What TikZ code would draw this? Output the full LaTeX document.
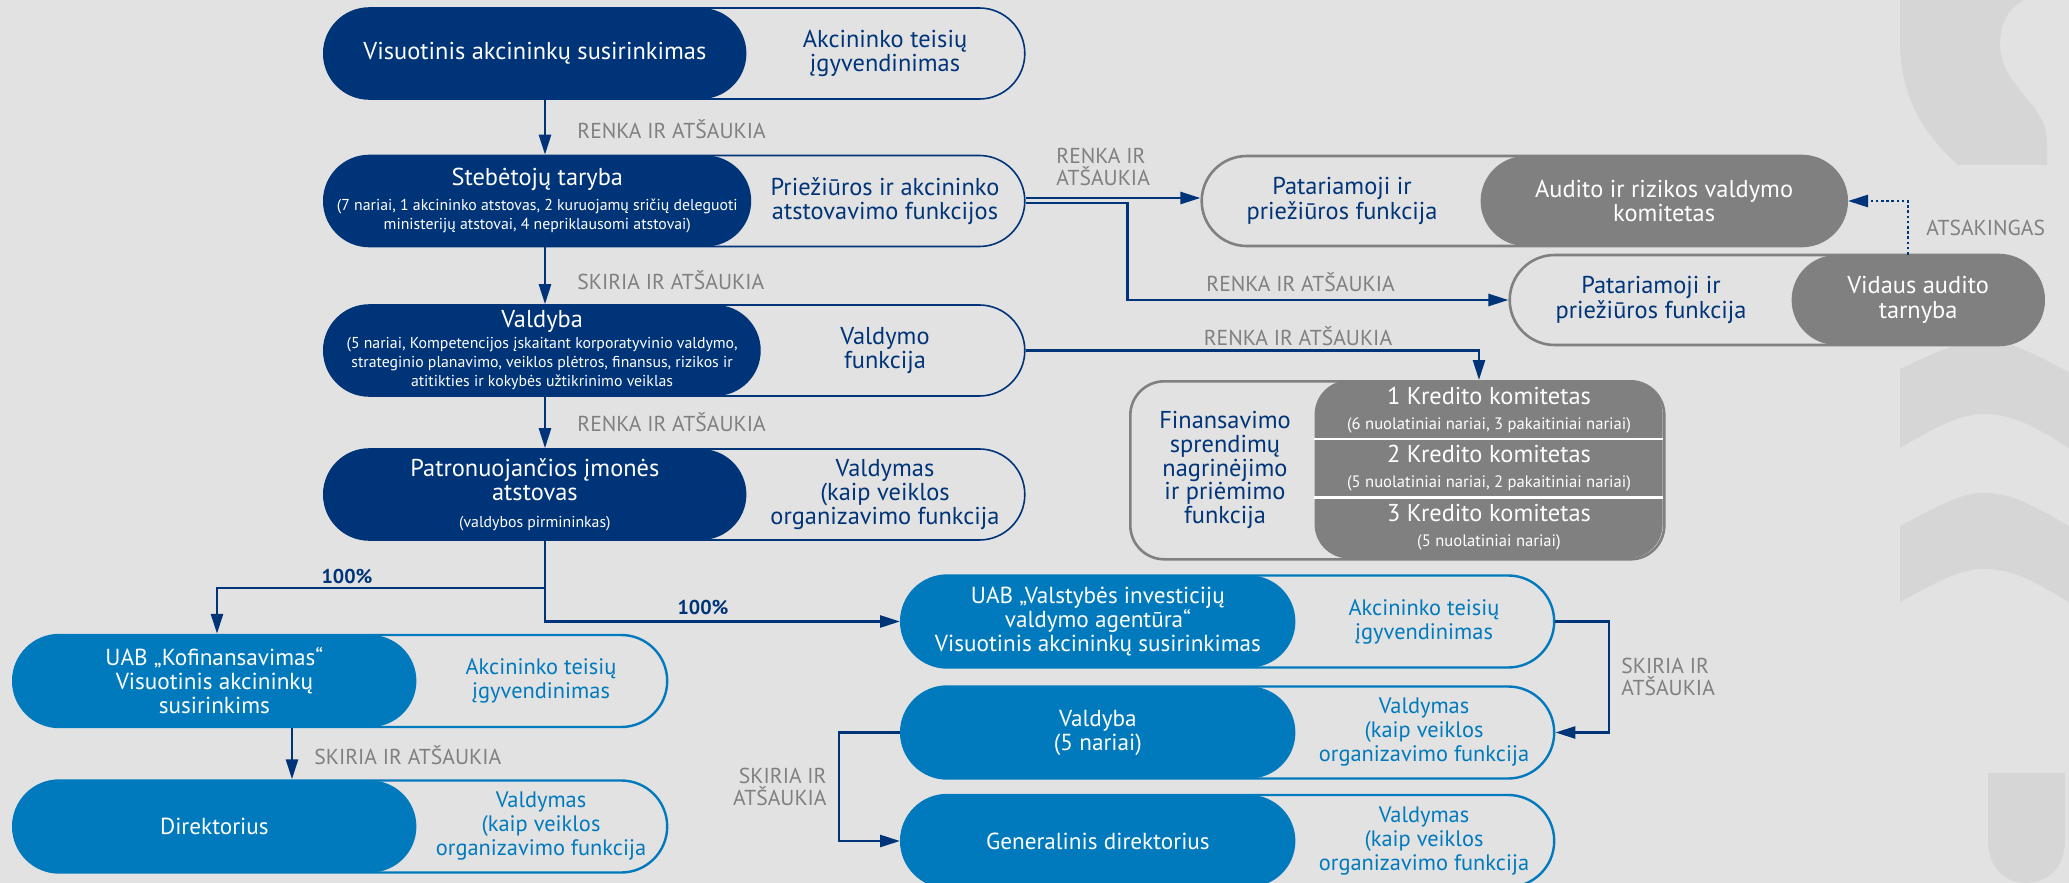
\documentclass[tikz,border=0pt]{standalone}
\usepackage{fontspec}
\setmainfont{PT Sans}
\usetikzlibrary{shapes.misc, arrows.meta, positioning, calc}
\definecolor{invnavy}{RGB}{0, 52, 120}
\definecolor{invblue}{RGB}{0, 122, 189}
\definecolor{boxgrey}{RGB}{128, 128, 128}
\definecolor{bggrey}{RGB}{226, 226, 226}
\definecolor{markgrey}{RGB}{214, 214, 214}
\definecolor{lblgrey}{RGB}{128, 128, 128}
\newcommand{\maintxt}{\fontsize{12.2}{12.2}\selectfont}
\newcommand{\bluetxt}{\fontsize{11.6}{12}\selectfont}
\newcommand{\bluefntxt}{\fontsize{11.2}{12}\selectfont}
\newcommand{\subtxt}{\fontsize{7.9}{9.5}\selectfont}
\newcommand{\kredsub}{\fontsize{8.3}{9.5}\selectfont}
\newcommand{\lbltxt}{\fontsize{10.8}{11}\selectfont}
\newcommand{\pcttxt}{\fontsize{10}{10}\selectfont\bfseries}

\begin{document}
\begin{tikzpicture}[
        x=0.5pt, y=-0.5pt,
        navyout/.style={rounded rectangle, draw=invnavy, line width=0.8pt, minimum height=45.5pt, inner sep=0pt, anchor=west},
        navypill/.style={rounded rectangle, fill=invnavy, text=white, minimum height=45.5pt, inner sep=0pt, align=center, anchor=west, font=\maintxt},
        blueout/.style={rounded rectangle, draw=invblue, line width=1.2pt, minimum height=46pt, inner sep=0pt, anchor=west},
        bluepill/.style={rounded rectangle, fill=invblue, text=white, minimum height=46pt, inner sep=0pt, align=center, anchor=west, font=\bluetxt},
        greyout/.style={rounded rectangle, draw=boxgrey, line width=1.3pt, minimum height=45pt, inner sep=0pt, anchor=east},
        greypill/.style={rounded rectangle, fill=boxgrey, text=white, minimum height=45pt, inner sep=0pt, align=center, anchor=east, font=\maintxt},
        greytxt/.style={align=center, text=white, font=\maintxt, inner sep=0pt},
        navyfn/.style={align=center, text=invnavy, font=\maintxt, inner sep=0pt},
        bluefn/.style={align=center, text=invblue, font=\bluefntxt, inner sep=0pt},
        lbl/.style={align=left, text=lblgrey, font=\lbltxt, inner sep=0pt},
        pct/.style={text=invnavy, font=\pcttxt, inner sep=0pt},
        sepline/.style={draw=white, line width=1.2pt},
        arr/.style={-{Triangle[length=10pt, width=6pt]}, line width=1.3pt, draw=invnavy},
        dotarr/.style={arr, dash pattern=on 1.3pt off 1.3pt}
    ]
        \useasboundingbox (0,0) rectangle (2069,883);
        \fill[bggrey] (0,0) rectangle (2069,883);

        % Watermark
        \fill[markgrey] (1900,0) -- (1900,40) .. controls (1900,100) and (1925,135) .. (1958,165) -- (2047,165) -- (2047,140) .. controls (2047,105) and (2000,85) .. (2000,45) .. controls (2000,20) and (2012,5) .. (2025,0) -- cycle;
        \fill[markgrey] (1900,369) .. controls (1940,350) and (1960,341) .. (1985,341) .. controls (2015,341) and (2040,358) .. (2069,372) -- (2069,448) .. controls (2040,430) and (2015,414) .. (1985,414) .. controls (1960,414) and (1940,425) .. (1900,448) -- cycle;
        \fill[markgrey] (1900,526) .. controls (1940,505) and (1960,493) .. (1985,493) .. controls (2015,493) and (2040,510) .. (2069,526) -- (2069,602) .. controls (2040,585) and (2015,569) .. (1985,569) .. controls (1960,569) and (1940,580) .. (1900,602) -- cycle;
        \fill[markgrey] (1988,773) -- (2065,773) -- (2065,840) .. controls (2065,870) and (2045,883) .. (2026,883) .. controls (2007,883) and (1988,870) .. (1988,840) -- cycle;

        % Shareholders meeting
        \node[navyout, minimum width=350.5pt] (vasBox) at (323,53.5) {};
        \node[navypill, minimum width=211.5pt] (vas) at (323,53.5) {Visuotinis akcininkų susirinkimas};
        \node[navyfn] (vasFn) at (885,53.5) {Akcininko teisių\\įgyvendinimas};

        % Supervisory board
        \node[navyout, minimum width=350.5pt] (stbBox) at (323,201) {};
        \node[navypill, minimum width=211.5pt, font=\subtxt] (stb) at (323,201) {{\maintxt Stebėtojų taryba}\\[3pt](7 nariai, 1 akcininko atstovas, 2 kuruojamų sričių deleguoti\\ministerijų atstovai, 4 nepriklausomi atstovai)};
        \node[navyfn] (stbFn) at (885,201) {Priežiūros ir akcininko\\atstovavimo funkcijos};

        % Board
        \node[navyout, minimum width=350.5pt] (valBox) at (323,350.5) {};
        \node[navypill, minimum width=211.5pt, font=\subtxt] (val) at (323,350.5) {{\maintxt Valdyba}\\[1pt](5 nariai, Kompetencijos įskaitant korporatyvinio valdymo,\\strateginio planavimo, veiklos plėtros, finansus, rizikos ir\\atitikties ir kokybės užtikrinimo veiklas};
        \node[navyfn] (valFn) at (885,350.5) {Valdymo\\funkcija};

        % Parent company representative
        \node[navyout, minimum width=350.5pt] (patBox) at (323,494.5) {};
        \node[navypill, minimum width=211.5pt] (pat) at (323,494.5) {Patronuojančios įmonės\\atstovas\\[1pt]{\subtxt (valdybos pirmininkas)}};
        \node[navyfn] (patFn) at (885,494.5) {Valdymas\\(kaip veiklos\\organizavimo funkcija};

        % Main spine
        \coordinate (spine) at (545,0);
        \draw[arr] (vasBox.south -| spine) -- (stbBox.north -| spine);
        \draw[arr] (stbBox.south -| spine) -- (valBox.north -| spine);
        \draw[arr] (valBox.south -| spine) -- (patBox.north -| spine);
        \node[lbl, anchor=west] (lblVas) at (577,129) {RENKA IR ATŠAUKIA};
        \node[lbl, anchor=west] (lblStb) at (577,280) {SKIRIA IR ATŠAUKIA};
        \node[lbl, anchor=west] (lblVal) at (577,422) {RENKA IR ATŠAUKIA};

        % Audit and risk committee
        \node[greyout, minimum width=322.5pt] (audBox) at (1848,201) {};
        \node[greypill, minimum width=183.5pt] (aud) at (1848,201) {Audito ir rizikos valdymo\\komitetas};
        \node[navyfn] (audFn) at (1342,201) {Patariamoji ir\\priežiūros funkcija};

        % Internal audit
        \node[greyout, minimum width=267pt] (vidBox) at (2045,300) {};
        \node[greypill, minimum width=126.5pt] (vid) at (2045,300) {Vidaus audito\\tarnyba};
        \node[navyfn] (vidFn) at (1651,300) {Patariamoji ir\\priežiūros funkcija};

        \draw[arr] ([yshift=1.5pt]stbBox.east) -- ([yshift=1.5pt]audBox.west);
        \draw[arr] ([yshift=-1pt]stbBox.east) -- ++(102,0) |- (vidBox.west);
        \coordinate (dotX) at (1908,0);
        \draw[dotarr] (vid.north -| dotX) |- (aud.east);
        \node[lbl, anchor=west] (lblAud) at (1056,167) {RENKA IR\\ATŠAUKIA};
        \node[lbl, anchor=west] (lblVid) at (1206,282) {RENKA IR ATŠAUKIA};
        \node[lbl, anchor=west] (lblAts) at (1926,228) {ATSAKINGAS};

        % Credit committees
        \node[draw=boxgrey, line width=1.3pt, rounded corners=17pt, minimum width=267pt, minimum height=89pt, inner sep=0pt, anchor=north west] (finBox) at (1129,380) {};
        \node[fill=boxgrey, rounded corners=17pt, minimum width=174pt, minimum height=89pt, inner sep=0pt, anchor=north east] (kredBox) at (1663,380) {};
        \draw[sepline] ($(kredBox.north west)!0.331!(kredBox.south west)$) -- ($(kredBox.north east)!0.331!(kredBox.south east)$);
        \draw[sepline] ($(kredBox.north west)!0.657!(kredBox.south west)$) -- ($(kredBox.north east)!0.657!(kredBox.south east)$);
        \node[greytxt] (kk1) at (1489,410) {1 Kredito komitetas\\{\kredsub (6 nuolatiniai nariai, 3 pakaitiniai nariai)}};
        \node[greytxt] (kk2) at (1489,468) {2 Kredito komitetas\\{\kredsub (5 nuolatiniai nariai, 2 pakaitiniai nariai)}};
        \node[greytxt] (kk3) at (1489,527) {3 Kredito komitetas\\{\kredsub (5 nuolatiniai nariai)}};
        \node[navyfn, font=\fontsize{12.2}{11.9}\selectfont] (finFn) at (1225,470) {Finansavimo\\sprendimų\\nagrinėjimo\\ir priėmimo\\funkcija};

        \coordinate (kredIn) at (1479,0);
        \draw[arr] (valBox.east) -| (finBox.north -| kredIn);
        \node[lbl] (lblFin) at (1298,336) {RENKA IR ATŠAUKIA};

        % Kofinansavimas
        \node[blueout, minimum width=327pt] (kofBox) at (12,681) {};
        \node[bluepill, minimum width=202pt] (kof) at (12,681) {UAB „Kofinansavimas“\\Visuotinis akcininkų\\susirinkims};
        \node[bluefn] (kofFn) at (541,681) {Akcininko teisių\\įgyvendinimas};

        % Director
        \node[blueout, minimum width=327pt] (dirBox) at (12,826.5) {};
        \node[bluepill, minimum width=202pt] (dir) at (12,826.5) {Direktorius};
        \node[bluefn] (dirFn) at (541,826.5) {Valdymas\\(kaip veiklos\\organizavimo funkcija};

        \coordinate (kofDrop) at (292,0);
        \draw[arr] (kofBox.south -| kofDrop) -- (dirBox.north -| kofDrop);
        \node[lbl, anchor=west] (lblDir) at (314,755) {SKIRIA IR ATŠAUKIA};

        % VIVA
        \node[blueout, minimum width=326.5pt] (vivaBox) at (900,621.5) {};
        \node[bluepill, minimum width=197.5pt] (viva) at (900,621.5) {UAB „Valstybės investicijų\\valdymo agentūra“\\Visuotinis akcininkų susirinkimas};
        \node[bluefn] (vivaFn) at (1424,621.5) {Akcininko teisių\\įgyvendinimas};

        % VIVA board
        \node[blueout, minimum width=326.5pt] (vvalBox) at (900,732.5) {};
        \node[bluepill, minimum width=197.5pt] (vval) at (900,732.5) {Valdyba\\(5 nariai)};
        \node[bluefn] (vvalFn) at (1424,732.5) {Valdymas\\(kaip veiklos\\organizavimo funkcija};

        % CEO
        \node[blueout, minimum width=326.5pt] (ceoBox) at (900,841) {};
        \node[bluepill, minimum width=197.5pt] (ceo) at (900,841) {Generalinis direktorius};
        \node[bluefn] (ceoFn) at (1424,841) {Valdymas\\(kaip veiklos\\organizavimo funkcija};

        % Ownership
        \coordinate (forkL) at (545,588);
        \coordinate (kofIn) at (217,0);
        \draw[arr] (patBox.south -| spine) -- (forkL) -| (kofBox.north -| kofIn);
        \draw[arr] (forkL) |- (vivaBox.west);
        \node[pct] (pctKof) at (347,576) {100\%};
        \node[pct] (pctViva) at (703,607) {100\%};

        \coordinate (vivaOut) at (1609,0);
        \draw[arr] (vivaBox.east) -| (vivaOut |- vvalBox.east) -- (vvalBox.east);
        \node[lbl, anchor=west] (lblVval) at (1621,677) {SKIRIA IR\\ATŠAUKIA};

        \coordinate (vvalOut) at (839,0);
        \draw[arr] (vvalBox.west) -| (vvalOut |- ceoBox.west) -- (ceoBox.west);
        \node[lbl, anchor=east, align=right] (lblCeo) at (827,787) {SKIRIA IR\\ATŠAUKIA};
    \end{tikzpicture}
\end{document}
